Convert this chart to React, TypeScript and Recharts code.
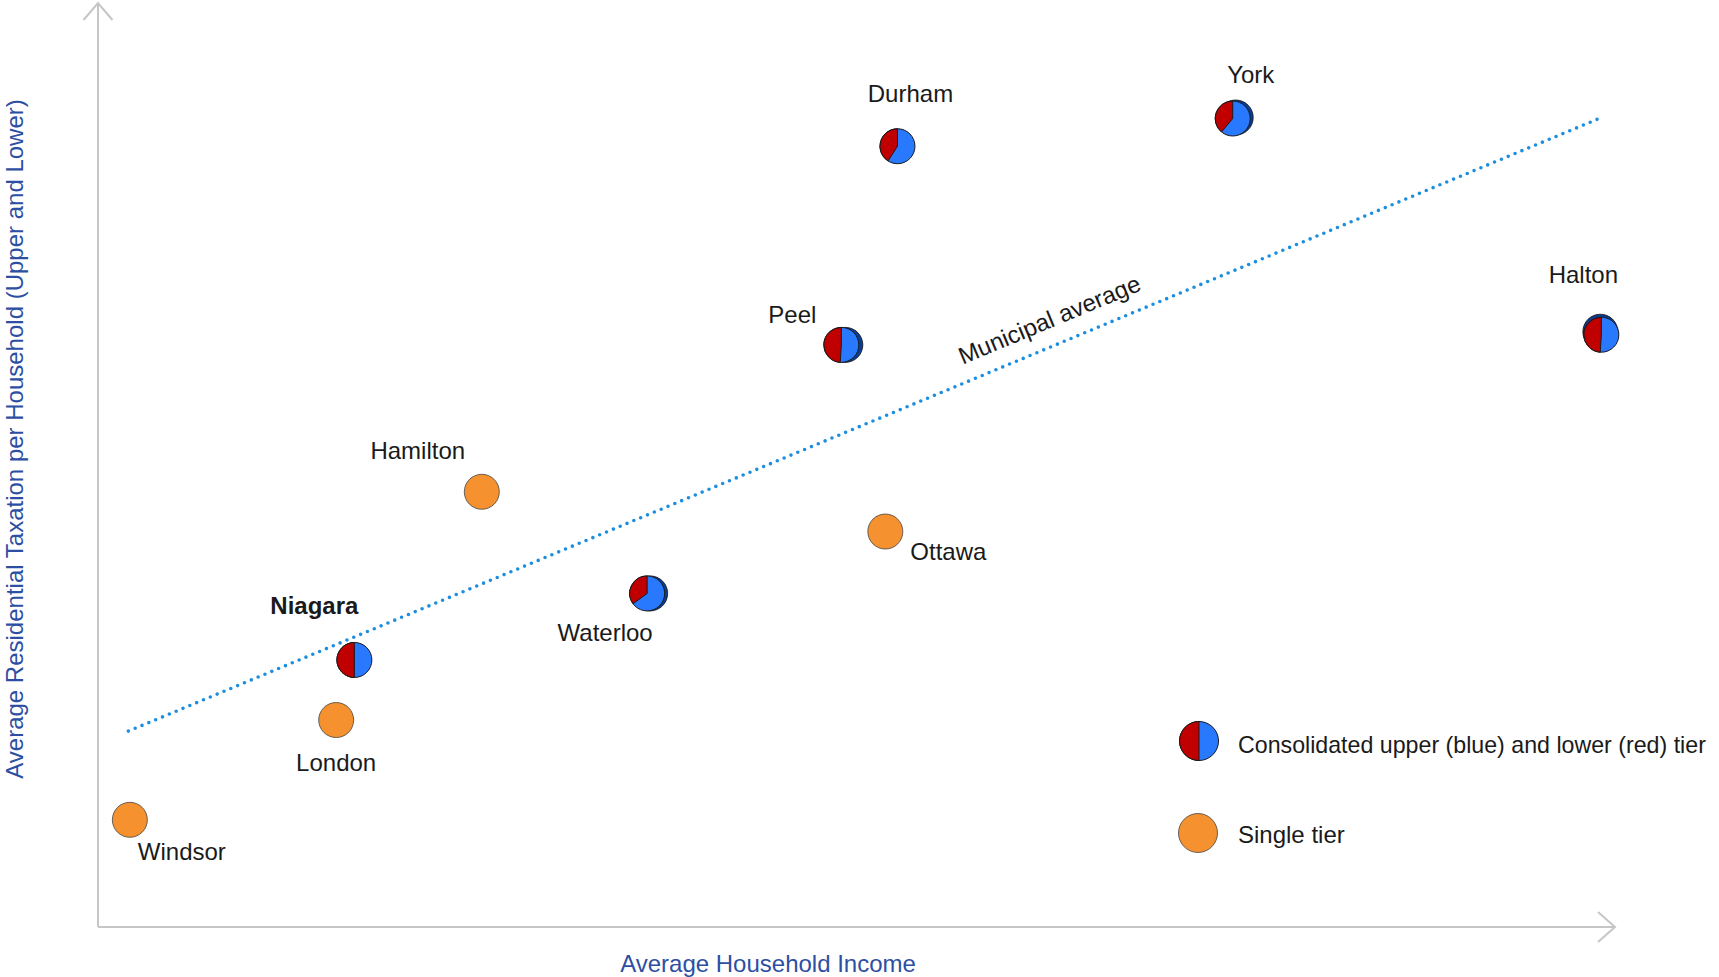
import React from 'react';
import { ScatterChart, Scatter, XAxis, YAxis, ReferenceLine, Legend } from 'recharts';

// regions with an upper and a lower tier (pie = lower share in red)
const twoTierNames = ['Durham', 'York', 'Halton', 'Peel', 'Waterloo', 'Niagara'];
const twoTierIncome = [52.7, 74.8, 99.1, 49.0, 36.2, 16.9];
const twoTierTax = [84.5, 87.5, 64.1, 63.0, 36.1, 28.9];
const lowerTierShare = [0.41, 0.39, 0.49, 0.49, 0.35, 0.5];

// single tier municipalities
const singleTierNames = ['Hamilton', 'Ottawa', 'London', 'Windsor'];
const singleTierIncome = [25.3, 51.9, 15.7, 2.1];
const singleTierTax = [47.1, 42.8, 22.4, 11.6];

// municipal average trend, end points
const trendIncome = [2.0, 99.1];
const trendTax = [21.2, 87.6];

const twoTierData = twoTierNames.map((name, i) => ({
  name,
  x: twoTierIncome[i],
  y: twoTierTax[i],
  share: lowerTierShare[i],
}));
const singleTierData = singleTierNames.map((name, i) => ({
  name,
  x: singleTierIncome[i],
  y: singleTierTax[i],
}));

const FONT = '"Liberation Sans", Arial, sans-serif';
const RED = '#C00000';
const BLUE = '#2979FF';
const NAVY = '#0B3D91';
const ORANGE = '#F5922F';
const AXIS = '#C6C6C6';
const TITLE = '#2D4FA3';
const R = 17.5;

// label placement relative to the marker centre
const labelOffset: Record<string, [number, number]> = {
  Durham: [13, -53],
  York: [18, -44],
  Halton: [-18, -60],
  Peel: [-49, -30],
  Hamilton: [-64, -41],
  Ottawa: [63, 20],
  Niagara: [-40, -54],
  Waterloo: [-42, 39],
  London: [0, 42],
  Windsor: [52, 32],
};
// the little 3d edge some of the pies have
const shadowOffset: Record<string, [number, number]> = {
  York: [3, -1],
  Peel: [4, 0],
  Waterloo: [3, 0],
  Halton: [-1, -3],
};

const PieMark = ({ cx, cy, r, share, shadow }: any) => {
  const a = share * Math.PI * 2;
  const ex = cx - r * Math.sin(a);
  const ey = cy - r * Math.cos(a);
  const large = share > 0.5 ? 1 : 0;
  return (
    <g>
      {shadow && (
        <circle cx={cx + shadow[0]} cy={cy + shadow[1]} r={r} fill={NAVY} stroke="#111" strokeWidth={0.8} />
      )}
      <circle cx={cx} cy={cy} r={r} fill={BLUE} stroke="#1a1a1a" strokeWidth={1} />
      <path
        d={`M${cx},${cy} L${cx},${cy - r} A${r},${r} 0 ${large} 0 ${ex},${ey} Z`}
        fill={RED}
        stroke="#1a1a1a"
        strokeWidth={1}
      />
    </g>
  );
};

const NameLabel = ({ cx, cy, name }: any) => {
  const [dx, dy] = labelOffset[name] || [0, -30];
  return (
    <text
      x={cx + dx}
      y={cy + dy}
      textAnchor="middle"
      dominantBaseline="central"
      fontFamily={FONT}
      fontSize={24}
      fontWeight={name === 'Niagara' ? 700 : 400}
      fill="#1a1a1a"
    >
      {name}
    </text>
  );
};

const renderTwoTier = (props: any) => {
  const { cx, cy, payload } = props;
  return (
    <g>
      <PieMark cx={cx} cy={cy} r={R} share={payload.share} shadow={shadowOffset[payload.name]} />
      <NameLabel cx={cx} cy={cy} name={payload.name} />
    </g>
  );
};

const renderSingleTier = (props: any) => {
  const { cx, cy, payload } = props;
  return (
    <g>
      <circle cx={cx} cy={cy} r={R} fill={ORANGE} stroke="#444" strokeWidth={0.8} />
      <NameLabel cx={cx} cy={cy} name={payload.name} />
    </g>
  );
};

const renderTrend = (props: any) => {
  const { x1, y1, x2, y2 } = props;
  const angle = (Math.atan2(y2 - y1, x2 - x1) * 180) / Math.PI;
  const t = 0.632;
  const px = x1 + (x2 - x1) * t;
  const py = y1 + (y2 - y1) * t;
  return (
    <g>
      <line
        x1={x1}
        y1={y1}
        x2={x2}
        y2={y2}
        stroke="#1C8EDF"
        strokeWidth={3.6}
        strokeLinecap="round"
        strokeDasharray="0 7.4"
      />
      <text
        transform={`translate(${px},${py}) rotate(${angle})`}
        y={-26}
        textAnchor="middle"
        dominantBaseline="central"
        fontFamily={FONT}
        fontSize={24}
        fill="#1a1a1a"
      >
        Municipal average
      </text>
    </g>
  );
};

const XAxisLabel = (props: any) => {
  const { x, y, width } = props.viewBox;
  const tip = x + width;
  return (
    <g>
      <polyline
        points={`${tip - 17},${y - 15} ${tip},${y} ${tip - 17},${y + 15}`}
        fill="none"
        stroke={AXIS}
        strokeWidth={2}
      />
      <text
        x={x + 670}
        y={y + 36}
        textAnchor="middle"
        dominantBaseline="central"
        fontFamily={FONT}
        fontSize={24}
        fill={TITLE}
      >
        Average Household Income
      </text>
    </g>
  );
};

const YAxisLabel = (props: any) => {
  const { x, y, width } = props.viewBox;
  const ax = x + width;
  return (
    <g>
      <polyline
        points={`${ax - 14.5},${y + 17} ${ax},${y} ${ax + 14.5},${y + 17}`}
        fill="none"
        stroke={AXIS}
        strokeWidth={2}
      />
      <text
        transform={`translate(${x + 14},${y + 436}) rotate(-90)`}
        textAnchor="middle"
        dominantBaseline="central"
        fontFamily={FONT}
        fontSize={24}
        fill={TITLE}
      >
        Average Residential Taxation per Household (Upper and Lower)
      </text>
    </g>
  );
};

const LegendContent = () => (
  <svg width={546} height={170} style={{ display: 'block' }}>
    <PieMark cx={26} cy={41} r={19.5} share={0.5} />
    <text x={65} y={45} dominantBaseline="central" fontFamily={FONT} fontSize={23.2} fill="#1a1a1a">
      Consolidated upper (blue) and lower (red) tier
    </text>
    <circle cx={25} cy={133} r={19.5} fill={ORANGE} stroke="#444" strokeWidth={0.8} />
    <text x={65} y={134} dominantBaseline="central" fontFamily={FONT} fontSize={24} fill="#1a1a1a">
      Single tier
    </text>
  </svg>
);

export default function App() {
  return (
    <div style={{ position: 'absolute', left: 0, top: 0, width: 1719, height: 977, background: '#fff' }}>
      <ScatterChart width={1719} height={977} margin={{ top: 3, right: 104, bottom: 0, left: 0 }}>
        <XAxis
          type="number"
          dataKey="x"
          domain={[0, 100]}
          tick={false}
          tickLine={false}
          axisLine={{ stroke: AXIS, strokeWidth: 2 }}
          height={50}
          label={XAxisLabel}
        />
        <YAxis
          type="number"
          dataKey="y"
          domain={[0, 100]}
          tick={false}
          tickLine={false}
          axisLine={{ stroke: AXIS, strokeWidth: 2 }}
          width={98}
          label={YAxisLabel}
        />
        <ReferenceLine
          segment={[
            { x: trendIncome[0], y: trendTax[0] },
            { x: trendIncome[1], y: trendTax[1] },
          ]}
          shape={renderTrend}
        />
        <Scatter
          name="Consolidated upper (blue) and lower (red) tier"
          data={twoTierData}
          shape={renderTwoTier}
          isAnimationActive={false}
        />
        <Scatter
          name="Single tier"
          data={singleTierData}
          shape={renderSingleTier}
          isAnimationActive={false}
        />
        <Legend
          layout="vertical"
          align="center"
          verticalAlign="middle"
          content={LegendContent}
          wrapperStyle={{ left: 1173, top: 700, width: 546 }}
        />
      </ScatterChart>
    </div>
  );
}
